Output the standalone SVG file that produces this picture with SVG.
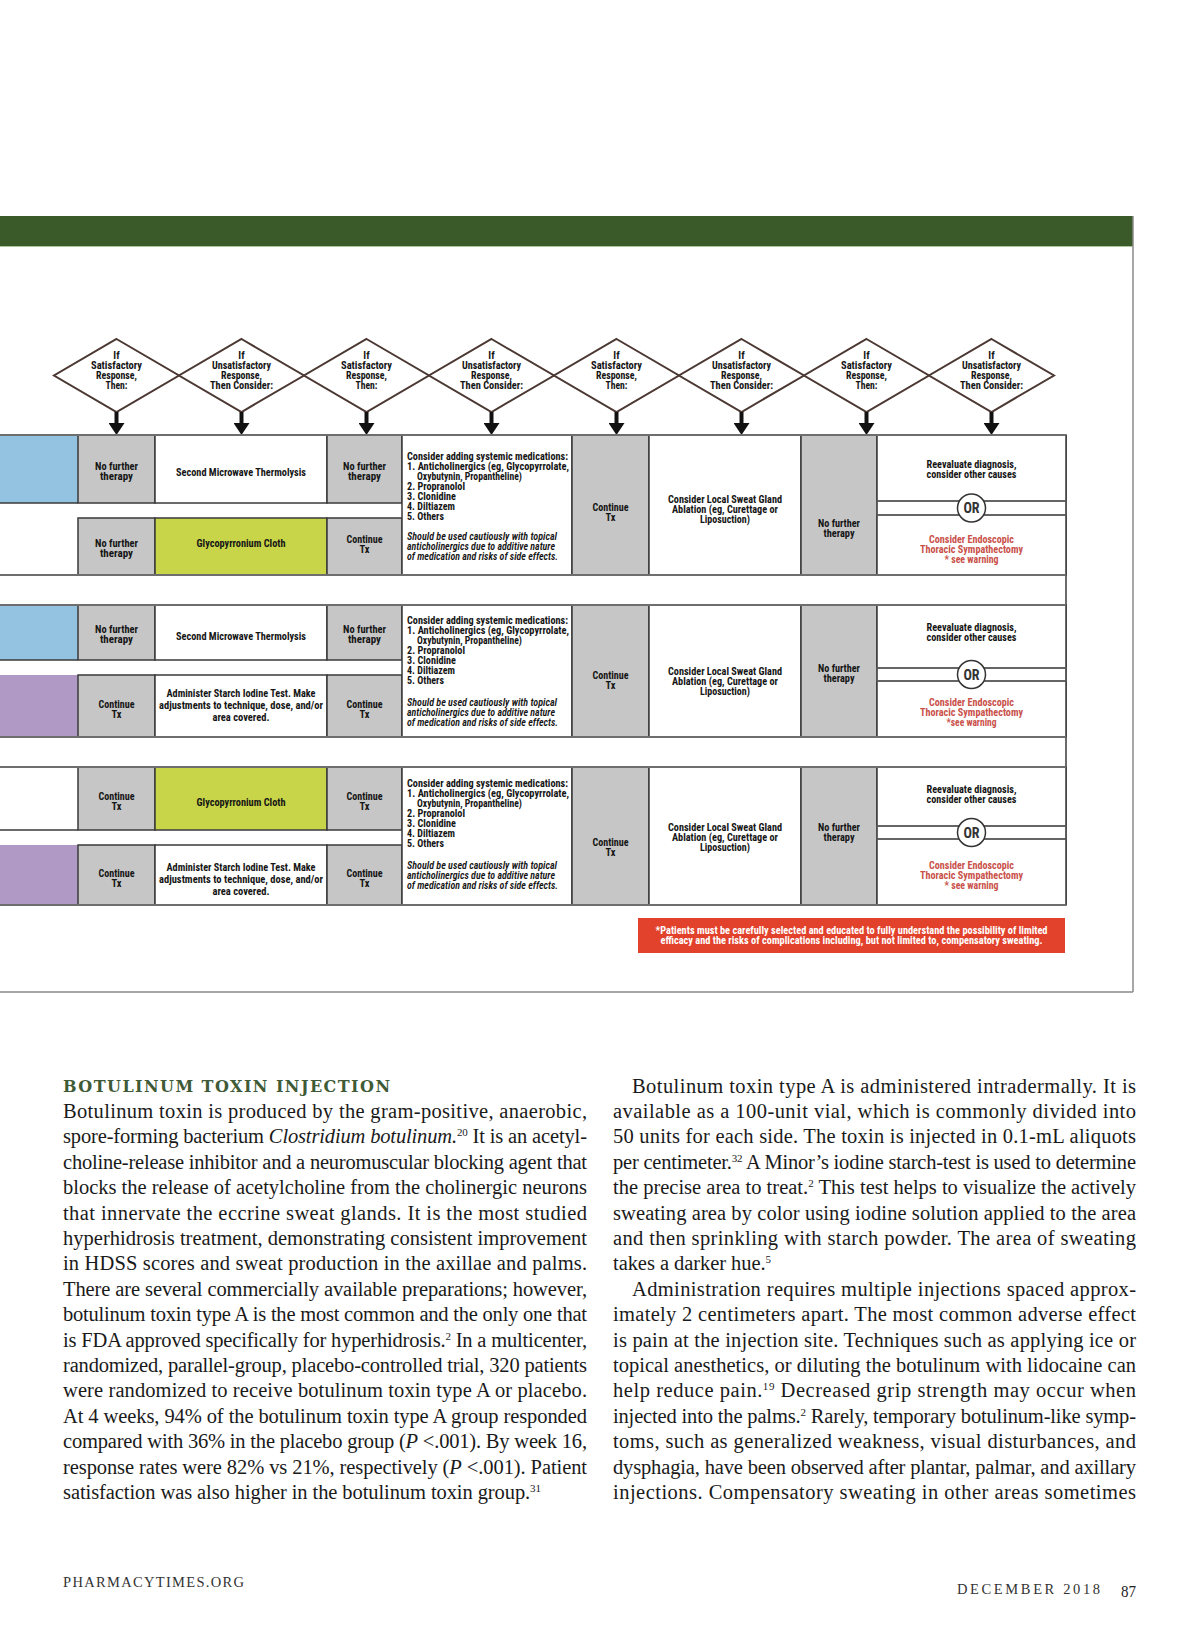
<svg xmlns="http://www.w3.org/2000/svg" width="1200" height="1638" viewBox="0 0 1200 1638">
<defs>
<style>
.bg{fill:#fff}
.dia{fill:#fff;stroke:#4b3832;stroke-width:2}
.t{font-family:"Liberation Sans Narrow","Roboto Condensed","DejaVu Sans Condensed","Liberation Sans",Arial,sans-serif;font-weight:700;font-size:10.5px;fill:#151515}
.c{text-anchor:middle}
.it{font-style:italic;font-weight:600}
.red{fill:#c9514a}
.wt{fill:#fff}
.gray{fill:#c6c6c6;stroke:#3a3a3a;stroke-width:1.5}
.white{fill:#fff;stroke:#3a3a3a;stroke-width:1.5}
.green{fill:#c9d548;stroke:#3a3a3a;stroke-width:1.5}
.blue{fill:#93c3e1}
.purple{fill:#b199c5}
.ln{stroke:#3a3a3a;stroke-width:1.5;fill:none}
.sec{stroke:#6e6e6e;stroke-width:2;fill:none}
.band{stroke:#555;stroke-width:1.8;fill:#fff}
.orc{fill:#fff;stroke:#333;stroke-width:1.5}
.ort{font-family:"Liberation Sans Narrow","Roboto Condensed","Liberation Sans",sans-serif;font-weight:700;font-size:14px;fill:#333;text-anchor:middle}
.arrow{stroke:#111;stroke-width:4;marker-end:url(#ah)}
.body{font-family:"Liberation Serif","Times New Roman",serif;font-size:20.5px;fill:#1a1a1a}
.head{font-family:"DejaVu Serif","Liberation Serif",serif;font-weight:700;font-size:16px;fill:#3f5a36}
.foot{font-family:"Liberation Serif","DejaVu Serif",serif;font-size:14.5px;fill:#333}
</style>
<marker id="ah" viewBox="0 0 12 16" refX="0" refY="8" markerWidth="12" markerHeight="16" markerUnits="userSpaceOnUse" orient="auto">
<path d="M0,0 L12,8 L0,16 Z" fill="#111"/>
</marker>
</defs>
<rect class="bg" x="0" y="0" width="1200" height="1638"/>

<g id="frame">
<rect x="0" y="216" width="1133" height="30" fill="#3a5a2a"/>
<line x1="0" y1="246.5" x2="1133" y2="246.5" stroke="#a9c79a" stroke-width="1"/>
<line x1="1133" y1="216" x2="1133" y2="992" stroke="#8a8a8a" stroke-width="1.5"/>
<line x1="0" y1="992" x2="1133" y2="992" stroke="#8a8a8a" stroke-width="1.5"/>
</g>

<g id="decisions">
<g id="d1"><polygon class="dia" points="116.5,339 179,375.5 116.5,412 54,375.5"/>
<text class="t c" x="116.5" y="359">If</text><text class="t c" x="116.5" y="369" textLength="51" lengthAdjust="spacingAndGlyphs">Satisfactory</text><text class="t c" x="116.5" y="379" textLength="41" lengthAdjust="spacingAndGlyphs">Response,</text><text class="t c" x="116.5" y="389" textLength="22" lengthAdjust="spacingAndGlyphs">Then:</text></g>
<g id="d2"><polygon class="dia" points="241.5,339 304,375.5 241.5,412 179,375.5"/>
<text class="t c" x="241.5" y="359">If</text><text class="t c" x="241.5" y="369" textLength="59" lengthAdjust="spacingAndGlyphs">Unsatisfactory</text><text class="t c" x="241.5" y="379" textLength="41" lengthAdjust="spacingAndGlyphs">Response,</text><text class="t c" x="241.5" y="389" textLength="63" lengthAdjust="spacingAndGlyphs">Then Consider:</text></g>
<g id="d3"><polygon class="dia" points="366.5,339 429,375.5 366.5,412 304,375.5"/>
<text class="t c" x="366.5" y="359">If</text><text class="t c" x="366.5" y="369" textLength="51" lengthAdjust="spacingAndGlyphs">Satisfactory</text><text class="t c" x="366.5" y="379" textLength="41" lengthAdjust="spacingAndGlyphs">Response,</text><text class="t c" x="366.5" y="389" textLength="22" lengthAdjust="spacingAndGlyphs">Then:</text></g>
<g id="d4"><polygon class="dia" points="491.5,339 554,375.5 491.5,412 429,375.5"/>
<text class="t c" x="491.5" y="359">If</text><text class="t c" x="491.5" y="369" textLength="59" lengthAdjust="spacingAndGlyphs">Unsatisfactory</text><text class="t c" x="491.5" y="379" textLength="41" lengthAdjust="spacingAndGlyphs">Response,</text><text class="t c" x="491.5" y="389" textLength="63" lengthAdjust="spacingAndGlyphs">Then Consider:</text></g>
<g id="d5"><polygon class="dia" points="616.5,339 679,375.5 616.5,412 554,375.5"/>
<text class="t c" x="616.5" y="359">If</text><text class="t c" x="616.5" y="369" textLength="51" lengthAdjust="spacingAndGlyphs">Satisfactory</text><text class="t c" x="616.5" y="379" textLength="41" lengthAdjust="spacingAndGlyphs">Response,</text><text class="t c" x="616.5" y="389" textLength="22" lengthAdjust="spacingAndGlyphs">Then:</text></g>
<g id="d6"><polygon class="dia" points="741.5,339 804,375.5 741.5,412 679,375.5"/>
<text class="t c" x="741.5" y="359">If</text><text class="t c" x="741.5" y="369" textLength="59" lengthAdjust="spacingAndGlyphs">Unsatisfactory</text><text class="t c" x="741.5" y="379" textLength="41" lengthAdjust="spacingAndGlyphs">Response,</text><text class="t c" x="741.5" y="389" textLength="63" lengthAdjust="spacingAndGlyphs">Then Consider:</text></g>
<g id="d7"><polygon class="dia" points="866.5,339 929,375.5 866.5,412 804,375.5"/>
<text class="t c" x="866.5" y="359">If</text><text class="t c" x="866.5" y="369" textLength="51" lengthAdjust="spacingAndGlyphs">Satisfactory</text><text class="t c" x="866.5" y="379" textLength="41" lengthAdjust="spacingAndGlyphs">Response,</text><text class="t c" x="866.5" y="389" textLength="22" lengthAdjust="spacingAndGlyphs">Then:</text></g>
<g id="d8"><polygon class="dia" points="991.5,339 1054,375.5 991.5,412 929,375.5"/>
<text class="t c" x="991.5" y="359">If</text><text class="t c" x="991.5" y="369" textLength="59" lengthAdjust="spacingAndGlyphs">Unsatisfactory</text><text class="t c" x="991.5" y="379" textLength="41" lengthAdjust="spacingAndGlyphs">Response,</text><text class="t c" x="991.5" y="389" textLength="63" lengthAdjust="spacingAndGlyphs">Then Consider:</text></g>
</g>

<g id="connectors">
<line class="arrow" x1="116.5" y1="412" x2="116.5" y2="423"/>
<line class="arrow" x1="241.5" y1="412" x2="241.5" y2="423"/>
<line class="arrow" x1="366.5" y1="412" x2="366.5" y2="423"/>
<line class="arrow" x1="491.5" y1="412" x2="491.5" y2="423"/>
<line class="arrow" x1="616.5" y1="412" x2="616.5" y2="423"/>
<line class="arrow" x1="741.5" y1="412" x2="741.5" y2="423"/>
<line class="arrow" x1="866.5" y1="412" x2="866.5" y2="423"/>
<line class="arrow" x1="991.5" y1="412" x2="991.5" y2="423"/>
</g>

<g id="table-lines">
<line class="ln" x1="1066" y1="435" x2="1066" y2="905"/>
</g>

<g id="section1">
<g id="s1-c0a"><rect class="blue" x="-2" y="435" width="80" height="68"/></g>
<line class="ln" x1="0" y1="503" x2="78" y2="503"/>
<g id="s1-c1a"><rect class="gray" x="78" y="435" width="77" height="68"/><text class="t c" x="116.5" y="470" textLength="43" lengthAdjust="spacingAndGlyphs">No further</text><text class="t c" x="116.5" y="480" textLength="33" lengthAdjust="spacingAndGlyphs">therapy</text></g>
<g id="s1-c2a"><rect class="white" x="155" y="435" width="172" height="68"/><text class="t c" x="241" y="476" textLength="130" lengthAdjust="spacingAndGlyphs">Second Microwave Thermolysis</text></g>
<g id="s1-c3a"><rect class="gray" x="327" y="435" width="75" height="68"/><text class="t c" x="364.5" y="470" textLength="43" lengthAdjust="spacingAndGlyphs">No further</text><text class="t c" x="364.5" y="480" textLength="33" lengthAdjust="spacingAndGlyphs">therapy</text></g>
<g id="s1-c1b"><rect class="gray" x="78" y="518" width="77" height="57"/><text class="t c" x="116.5" y="547" textLength="43" lengthAdjust="spacingAndGlyphs">No further</text><text class="t c" x="116.5" y="557" textLength="33" lengthAdjust="spacingAndGlyphs">therapy</text></g>
<g id="s1-c2b"><rect class="green" x="155" y="518" width="172" height="57"/><text class="t c" x="241" y="547" textLength="89" lengthAdjust="spacingAndGlyphs">Glycopyrronium Cloth</text></g>
<g id="s1-c3b"><rect class="gray" x="327" y="518" width="75" height="57"/><text class="t c" x="364.5" y="543" textLength="36" lengthAdjust="spacingAndGlyphs">Continue</text><text class="t c" x="364.5" y="553">Tx</text></g>
<g id="s1-c4"><rect class="white" x="402" y="435" width="170" height="140"/>
<text class="t" x="407" y="460" textLength="161" lengthAdjust="spacingAndGlyphs">Consider adding systemic medications:</text>
<text class="t" x="407" y="470" textLength="162" lengthAdjust="spacingAndGlyphs">1. Anticholinergics (eg, Glycopyrrolate,</text>
<text class="t" x="417" y="480" textLength="105" lengthAdjust="spacingAndGlyphs">Oxybutynin, Propantheline)</text>
<text class="t" x="407" y="490" textLength="58" lengthAdjust="spacingAndGlyphs">2. Propranolol</text>
<text class="t" x="407" y="500" textLength="49" lengthAdjust="spacingAndGlyphs">3. Clonidine</text>
<text class="t" x="407" y="510" textLength="48" lengthAdjust="spacingAndGlyphs">4. Diltiazem</text>
<text class="t" x="407" y="520" textLength="37" lengthAdjust="spacingAndGlyphs">5. Others</text>
<text class="t it" x="407" y="540" textLength="150" lengthAdjust="spacingAndGlyphs">Should be used cautiously with topical</text>
<text class="t it" x="407" y="550" textLength="148" lengthAdjust="spacingAndGlyphs">anticholinergics due to additive nature</text>
<text class="t it" x="407" y="560" textLength="151" lengthAdjust="spacingAndGlyphs">of medication and risks of side effects.</text></g>
<g id="s1-c5"><rect class="gray" x="572" y="435" width="77" height="140"/><text class="t c" x="610.5" y="511" textLength="36" lengthAdjust="spacingAndGlyphs">Continue</text><text class="t c" x="610.5" y="521">Tx</text></g>
<g id="s1-c6"><rect class="white" x="649" y="435" width="152" height="140"/><text class="t c" x="725" y="503" textLength="114" lengthAdjust="spacingAndGlyphs">Consider Local Sweat Gland</text><text class="t c" x="725" y="513" textLength="106" lengthAdjust="spacingAndGlyphs">Ablation (eg, Curettage or</text><text class="t c" x="725" y="523" textLength="50" lengthAdjust="spacingAndGlyphs">Liposuction)</text></g>
<g id="s1-c7"><rect class="gray" x="801" y="435" width="76" height="140"/><text class="t c" x="839" y="527" textLength="42" lengthAdjust="spacingAndGlyphs">No further</text><text class="t c" x="839" y="537" textLength="31" lengthAdjust="spacingAndGlyphs">therapy</text></g>
<g id="s1-c8"><rect class="white" x="877" y="435" width="189" height="140"/>
<text class="t c" x="971.5" y="468" textLength="90" lengthAdjust="spacingAndGlyphs">Reevaluate diagnosis,</text><text class="t c" x="971.5" y="478" textLength="90" lengthAdjust="spacingAndGlyphs">consider other causes</text>
<rect class="band" x="877" y="501" width="189" height="14"/>
<circle class="orc" cx="971.5" cy="508" r="14"/><text class="ort" x="971.5" y="513">OR</text>
<text class="t c red" x="971.5" y="543" textLength="85" lengthAdjust="spacingAndGlyphs">Consider Endoscopic</text><text class="t c red" x="971.5" y="553" textLength="103" lengthAdjust="spacingAndGlyphs">Thoracic Sympathectomy</text><text class="t c red" x="971.5" y="563" textLength="54" lengthAdjust="spacingAndGlyphs">* see warning</text></g>
<line class="sec" x1="0" y1="435" x2="1066" y2="435"/>
<line class="sec" x1="0" y1="575" x2="1066" y2="575"/>
</g>

<g id="section2">
<g id="s2-c0a"><rect class="blue" x="-2" y="605" width="80" height="55"/></g>
<line class="ln" x1="0" y1="660" x2="78" y2="660"/>
<g id="s2-c0b"><rect class="purple" x="-2" y="675" width="80" height="62"/></g>
<g id="s2-c1a"><rect class="gray" x="78" y="605" width="77" height="55"/><text class="t c" x="116.5" y="633" textLength="43" lengthAdjust="spacingAndGlyphs">No further</text><text class="t c" x="116.5" y="643" textLength="33" lengthAdjust="spacingAndGlyphs">therapy</text></g>
<g id="s2-c2a"><rect class="white" x="155" y="605" width="172" height="55"/><text class="t c" x="241" y="640" textLength="130" lengthAdjust="spacingAndGlyphs">Second Microwave Thermolysis</text></g>
<g id="s2-c3a"><rect class="gray" x="327" y="605" width="75" height="55"/><text class="t c" x="364.5" y="633" textLength="43" lengthAdjust="spacingAndGlyphs">No further</text><text class="t c" x="364.5" y="643" textLength="33" lengthAdjust="spacingAndGlyphs">therapy</text></g>
<g id="s2-c1b"><rect class="gray" x="78" y="675" width="77" height="62"/><text class="t c" x="116.5" y="708" textLength="36" lengthAdjust="spacingAndGlyphs">Continue</text><text class="t c" x="116.5" y="718">Tx</text></g>
<g id="s2-c2b"><rect class="white" x="155" y="675" width="172" height="62"/><text class="t c" x="241" y="697" textLength="149" lengthAdjust="spacingAndGlyphs">Administer Starch Iodine Test. Make</text><text class="t c" x="241" y="709" textLength="164" lengthAdjust="spacingAndGlyphs">adjustments to technique, dose, and/or</text><text class="t c" x="241" y="721" textLength="57" lengthAdjust="spacingAndGlyphs">area covered.</text></g>
<g id="s2-c3b"><rect class="gray" x="327" y="675" width="75" height="62"/><text class="t c" x="364.5" y="708" textLength="36" lengthAdjust="spacingAndGlyphs">Continue</text><text class="t c" x="364.5" y="718">Tx</text></g>
<g id="s2-c4"><rect class="white" x="402" y="605" width="170" height="132"/>
<text class="t" x="407" y="624" textLength="161" lengthAdjust="spacingAndGlyphs">Consider adding systemic medications:</text>
<text class="t" x="407" y="634" textLength="162" lengthAdjust="spacingAndGlyphs">1. Anticholinergics (eg, Glycopyrrolate,</text>
<text class="t" x="417" y="644" textLength="105" lengthAdjust="spacingAndGlyphs">Oxybutynin, Propantheline)</text>
<text class="t" x="407" y="654" textLength="58" lengthAdjust="spacingAndGlyphs">2. Propranolol</text>
<text class="t" x="407" y="664" textLength="49" lengthAdjust="spacingAndGlyphs">3. Clonidine</text>
<text class="t" x="407" y="674" textLength="48" lengthAdjust="spacingAndGlyphs">4. Diltiazem</text>
<text class="t" x="407" y="684" textLength="37" lengthAdjust="spacingAndGlyphs">5. Others</text>
<text class="t it" x="407" y="706" textLength="150" lengthAdjust="spacingAndGlyphs">Should be used cautiously with topical</text>
<text class="t it" x="407" y="716" textLength="148" lengthAdjust="spacingAndGlyphs">anticholinergics due to additive nature</text>
<text class="t it" x="407" y="726" textLength="151" lengthAdjust="spacingAndGlyphs">of medication and risks of side effects.</text></g>
<g id="s2-c5"><rect class="gray" x="572" y="605" width="77" height="132"/><text class="t c" x="610.5" y="679" textLength="36" lengthAdjust="spacingAndGlyphs">Continue</text><text class="t c" x="610.5" y="689">Tx</text></g>
<g id="s2-c6"><rect class="white" x="649" y="605" width="152" height="132"/><text class="t c" x="725" y="675" textLength="114" lengthAdjust="spacingAndGlyphs">Consider Local Sweat Gland</text><text class="t c" x="725" y="685" textLength="106" lengthAdjust="spacingAndGlyphs">Ablation (eg, Curettage or</text><text class="t c" x="725" y="695" textLength="50" lengthAdjust="spacingAndGlyphs">Liposuction)</text></g>
<g id="s2-c7"><rect class="gray" x="801" y="605" width="76" height="132"/><text class="t c" x="839" y="672" textLength="42" lengthAdjust="spacingAndGlyphs">No further</text><text class="t c" x="839" y="682" textLength="31" lengthAdjust="spacingAndGlyphs">therapy</text></g>
<g id="s2-c8"><rect class="white" x="877" y="605" width="189" height="132"/>
<text class="t c" x="971.5" y="631" textLength="90" lengthAdjust="spacingAndGlyphs">Reevaluate diagnosis,</text><text class="t c" x="971.5" y="641" textLength="90" lengthAdjust="spacingAndGlyphs">consider other causes</text>
<rect class="band" x="877" y="668" width="189" height="13"/>
<circle class="orc" cx="971.5" cy="674.5" r="14"/><text class="ort" x="971.5" y="679.5">OR</text>
<text class="t c red" x="971.5" y="706" textLength="85" lengthAdjust="spacingAndGlyphs">Consider Endoscopic</text><text class="t c red" x="971.5" y="716" textLength="103" lengthAdjust="spacingAndGlyphs">Thoracic Sympathectomy</text><text class="t c red" x="971.5" y="726" textLength="50" lengthAdjust="spacingAndGlyphs">*see warning</text></g>
<line class="sec" x1="0" y1="605" x2="1066" y2="605"/>
<line class="sec" x1="0" y1="737" x2="1066" y2="737"/>
</g>

<g id="section3">
<line class="ln" x1="0" y1="830" x2="78" y2="830"/>
<g id="s3-c0b"><rect class="purple" x="-2" y="845" width="80" height="60"/></g>
<g id="s3-c1a"><rect class="gray" x="78" y="767" width="77" height="63"/><text class="t c" x="116.5" y="800" textLength="36" lengthAdjust="spacingAndGlyphs">Continue</text><text class="t c" x="116.5" y="810">Tx</text></g>
<g id="s3-c2a"><rect class="green" x="155" y="767" width="172" height="63"/><text class="t c" x="241" y="806" textLength="89" lengthAdjust="spacingAndGlyphs">Glycopyrronium Cloth</text></g>
<g id="s3-c3a"><rect class="gray" x="327" y="767" width="75" height="63"/><text class="t c" x="364.5" y="800" textLength="36" lengthAdjust="spacingAndGlyphs">Continue</text><text class="t c" x="364.5" y="810">Tx</text></g>
<g id="s3-c1b"><rect class="gray" x="78" y="845" width="77" height="60"/><text class="t c" x="116.5" y="877" textLength="36" lengthAdjust="spacingAndGlyphs">Continue</text><text class="t c" x="116.5" y="887">Tx</text></g>
<g id="s3-c2b"><rect class="white" x="155" y="845" width="172" height="60"/><text class="t c" x="241" y="871" textLength="149" lengthAdjust="spacingAndGlyphs">Administer Starch Iodine Test. Make</text><text class="t c" x="241" y="883" textLength="164" lengthAdjust="spacingAndGlyphs">adjustments to technique, dose, and/or</text><text class="t c" x="241" y="895" textLength="57" lengthAdjust="spacingAndGlyphs">area covered.</text></g>
<g id="s3-c3b"><rect class="gray" x="327" y="845" width="75" height="60"/><text class="t c" x="364.5" y="877" textLength="36" lengthAdjust="spacingAndGlyphs">Continue</text><text class="t c" x="364.5" y="887">Tx</text></g>
<g id="s3-c4"><rect class="white" x="402" y="767" width="170" height="138"/>
<text class="t" x="407" y="787" textLength="161" lengthAdjust="spacingAndGlyphs">Consider adding systemic medications:</text>
<text class="t" x="407" y="797" textLength="162" lengthAdjust="spacingAndGlyphs">1. Anticholinergics (eg, Glycopyrrolate,</text>
<text class="t" x="417" y="807" textLength="105" lengthAdjust="spacingAndGlyphs">Oxybutynin, Propantheline)</text>
<text class="t" x="407" y="817" textLength="58" lengthAdjust="spacingAndGlyphs">2. Propranolol</text>
<text class="t" x="407" y="827" textLength="49" lengthAdjust="spacingAndGlyphs">3. Clonidine</text>
<text class="t" x="407" y="837" textLength="48" lengthAdjust="spacingAndGlyphs">4. Diltiazem</text>
<text class="t" x="407" y="847" textLength="37" lengthAdjust="spacingAndGlyphs">5. Others</text>
<text class="t it" x="407" y="869" textLength="150" lengthAdjust="spacingAndGlyphs">Should be used cautiously with topical</text>
<text class="t it" x="407" y="879" textLength="148" lengthAdjust="spacingAndGlyphs">anticholinergics due to additive nature</text>
<text class="t it" x="407" y="889" textLength="151" lengthAdjust="spacingAndGlyphs">of medication and risks of side effects.</text></g>
<g id="s3-c5"><rect class="gray" x="572" y="767" width="77" height="138"/><text class="t c" x="610.5" y="846" textLength="36" lengthAdjust="spacingAndGlyphs">Continue</text><text class="t c" x="610.5" y="856">Tx</text></g>
<g id="s3-c6"><rect class="white" x="649" y="767" width="152" height="138"/><text class="t c" x="725" y="831" textLength="114" lengthAdjust="spacingAndGlyphs">Consider Local Sweat Gland</text><text class="t c" x="725" y="841" textLength="106" lengthAdjust="spacingAndGlyphs">Ablation (eg, Curettage or</text><text class="t c" x="725" y="851" textLength="50" lengthAdjust="spacingAndGlyphs">Liposuction)</text></g>
<g id="s3-c7"><rect class="gray" x="801" y="767" width="76" height="138"/><text class="t c" x="839" y="831" textLength="42" lengthAdjust="spacingAndGlyphs">No further</text><text class="t c" x="839" y="841" textLength="31" lengthAdjust="spacingAndGlyphs">therapy</text></g>
<g id="s3-c8"><rect class="white" x="877" y="767" width="189" height="138"/>
<text class="t c" x="971.5" y="793" textLength="90" lengthAdjust="spacingAndGlyphs">Reevaluate diagnosis,</text><text class="t c" x="971.5" y="803" textLength="90" lengthAdjust="spacingAndGlyphs">consider other causes</text>
<rect class="band" x="877" y="826" width="189" height="13"/>
<circle class="orc" cx="971.5" cy="832.5" r="14"/><text class="ort" x="971.5" y="837.5">OR</text>
<text class="t c red" x="971.5" y="869" textLength="85" lengthAdjust="spacingAndGlyphs">Consider Endoscopic</text><text class="t c red" x="971.5" y="879" textLength="103" lengthAdjust="spacingAndGlyphs">Thoracic Sympathectomy</text><text class="t c red" x="971.5" y="889" textLength="54" lengthAdjust="spacingAndGlyphs">* see warning</text></g>
<line class="sec" x1="0" y1="767" x2="1066" y2="767"/>
<line class="sec" x1="0" y1="905" x2="1066" y2="905"/>
</g>

<g id="warning">
<rect x="638" y="918" width="427" height="35" fill="#e2412c"/>
<text class="t c wt" x="851.5" y="934" textLength="392" lengthAdjust="spacingAndGlyphs">*Patients must be carefully selected and educated to fully understand the possibility of limited</text>
<text class="t c wt" x="851.5" y="944" textLength="382" lengthAdjust="spacingAndGlyphs">efficacy and the risks of complications including, but not limited to, compensatory sweating.</text>
</g>

<g id="article-left">
<text class="head" x="63" y="1092" textLength="327" lengthAdjust="spacing">BOTULINUM TOXIN INJECTION</text>
<text class="body" x="63" y="1118" textLength="524" lengthAdjust="spacing">Botulinum toxin is produced by the gram-positive, anaerobic,</text>
<text class="body" x="63" y="1143.4" textLength="524" lengthAdjust="spacing">spore-forming bacterium <tspan font-style="italic">Clostridium botulinum.</tspan><tspan font-size="11" dy="-7">20</tspan><tspan dy="7"> It is an acetyl-</tspan></text>
<text class="body" x="63" y="1168.8" textLength="524" lengthAdjust="spacing">choline-release inhibitor and a neuromuscular blocking agent that</text>
<text class="body" x="63" y="1194.2" textLength="524" lengthAdjust="spacing">blocks the release of acetylcholine from the cholinergic neurons</text>
<text class="body" x="63" y="1219.6" textLength="524" lengthAdjust="spacing">that innervate the eccrine sweat glands. It is the most studied</text>
<text class="body" x="63" y="1245" textLength="524" lengthAdjust="spacing">hyperhidrosis treatment, demonstrating consistent improvement</text>
<text class="body" x="63" y="1270.4" textLength="524" lengthAdjust="spacing">in HDSS scores and sweat production in the axillae and palms.</text>
<text class="body" x="63" y="1295.8" textLength="524" lengthAdjust="spacing">There are several commercially available preparations; however,</text>
<text class="body" x="63" y="1321.2" textLength="524" lengthAdjust="spacing">botulinum toxin type A is the most common and the only one that</text>
<text class="body" x="63" y="1346.6" textLength="524" lengthAdjust="spacing">is FDA approved specifically for hyperhidrosis.<tspan font-size="11" dy="-7">2</tspan><tspan dy="7"> In a multicenter,</tspan></text>
<text class="body" x="63" y="1372" textLength="524" lengthAdjust="spacing">randomized, parallel-group, placebo-controlled trial, 320 patients</text>
<text class="body" x="63" y="1397.4" textLength="524" lengthAdjust="spacing">were randomized to receive botulinum toxin type A or placebo.</text>
<text class="body" x="63" y="1422.8" textLength="524" lengthAdjust="spacing">At 4 weeks, 94% of the botulinum toxin type A group responded</text>
<text class="body" x="63" y="1448.2" textLength="524" lengthAdjust="spacing">compared with 36% in the placebo group (<tspan font-style="italic">P</tspan> &lt;.001). By week 16,</text>
<text class="body" x="63" y="1473.6" textLength="524" lengthAdjust="spacing">response rates were 82% vs 21%, respectively (<tspan font-style="italic">P</tspan> &lt;.001). Patient</text>
<text class="body" x="63" y="1499" textLength="478" lengthAdjust="spacing">satisfaction was also higher in the botulinum toxin group.<tspan font-size="11" dy="-7">31</tspan></text>
</g>

<g id="article-right">
<text class="body" x="632" y="1092.6" textLength="504" lengthAdjust="spacing">Botulinum toxin type A is administered intradermally. It is</text>
<text class="body" x="613" y="1118" textLength="523" lengthAdjust="spacing">available as a 100-unit vial, which is commonly divided into</text>
<text class="body" x="613" y="1143.4" textLength="523" lengthAdjust="spacing">50 units for each side. The toxin is injected in 0.1-mL aliquots</text>
<text class="body" x="613" y="1168.8" textLength="523" lengthAdjust="spacing">per centimeter.<tspan font-size="11" dy="-7">32</tspan><tspan dy="7"> A Minor’s iodine starch-test is used to determine</tspan></text>
<text class="body" x="613" y="1194.2" textLength="523" lengthAdjust="spacing">the precise area to treat.<tspan font-size="11" dy="-7">2</tspan><tspan dy="7"> This test helps to visualize the actively</tspan></text>
<text class="body" x="613" y="1219.6" textLength="523" lengthAdjust="spacing">sweating area by color using iodine solution applied to the area</text>
<text class="body" x="613" y="1245" textLength="523" lengthAdjust="spacing">and then sprinkling with starch powder. The area of sweating</text>
<text class="body" x="613" y="1270.4" textLength="158" lengthAdjust="spacing">takes a darker hue.<tspan font-size="11" dy="-7">5</tspan></text>
<text class="body" x="632" y="1295.8" textLength="504" lengthAdjust="spacing">Administration requires multiple injections spaced approx-</text>
<text class="body" x="613" y="1321.2" textLength="523" lengthAdjust="spacing">imately 2 centimeters apart. The most common adverse effect</text>
<text class="body" x="613" y="1346.6" textLength="523" lengthAdjust="spacing">is pain at the injection site. Techniques such as applying ice or</text>
<text class="body" x="613" y="1372" textLength="523" lengthAdjust="spacing">topical anesthetics, or diluting the botulinum with lidocaine can</text>
<text class="body" x="613" y="1397.4" textLength="523" lengthAdjust="spacing">help reduce pain.<tspan font-size="11" dy="-7">19</tspan><tspan dy="7"> Decreased grip strength may occur when</tspan></text>
<text class="body" x="613" y="1422.8" textLength="523" lengthAdjust="spacing">injected into the palms.<tspan font-size="11" dy="-7">2</tspan><tspan dy="7"> Rarely, temporary botulinum-like symp-</tspan></text>
<text class="body" x="613" y="1448.2" textLength="523" lengthAdjust="spacing">toms, such as generalized weakness, visual disturbances, and</text>
<text class="body" x="613" y="1473.6" textLength="523" lengthAdjust="spacing">dysphagia, have been observed after plantar, palmar, and axillary</text>
<text class="body" x="613" y="1499" textLength="523" lengthAdjust="spacing">injections. Compensatory sweating in other areas sometimes</text>
</g>

<g id="footer">
<text class="foot" x="63" y="1587" textLength="181" lengthAdjust="spacing">PHARMACYTIMES.ORG</text>
<text class="foot" x="957" y="1594" textLength="143" lengthAdjust="spacing">DECEMBER 2018</text>
<text x="1121" y="1597" font-family="Liberation Sans Narrow,Liberation Serif,serif" font-size="16" fill="#222" textLength="15" lengthAdjust="spacingAndGlyphs">87</text>
</g>
</svg>
